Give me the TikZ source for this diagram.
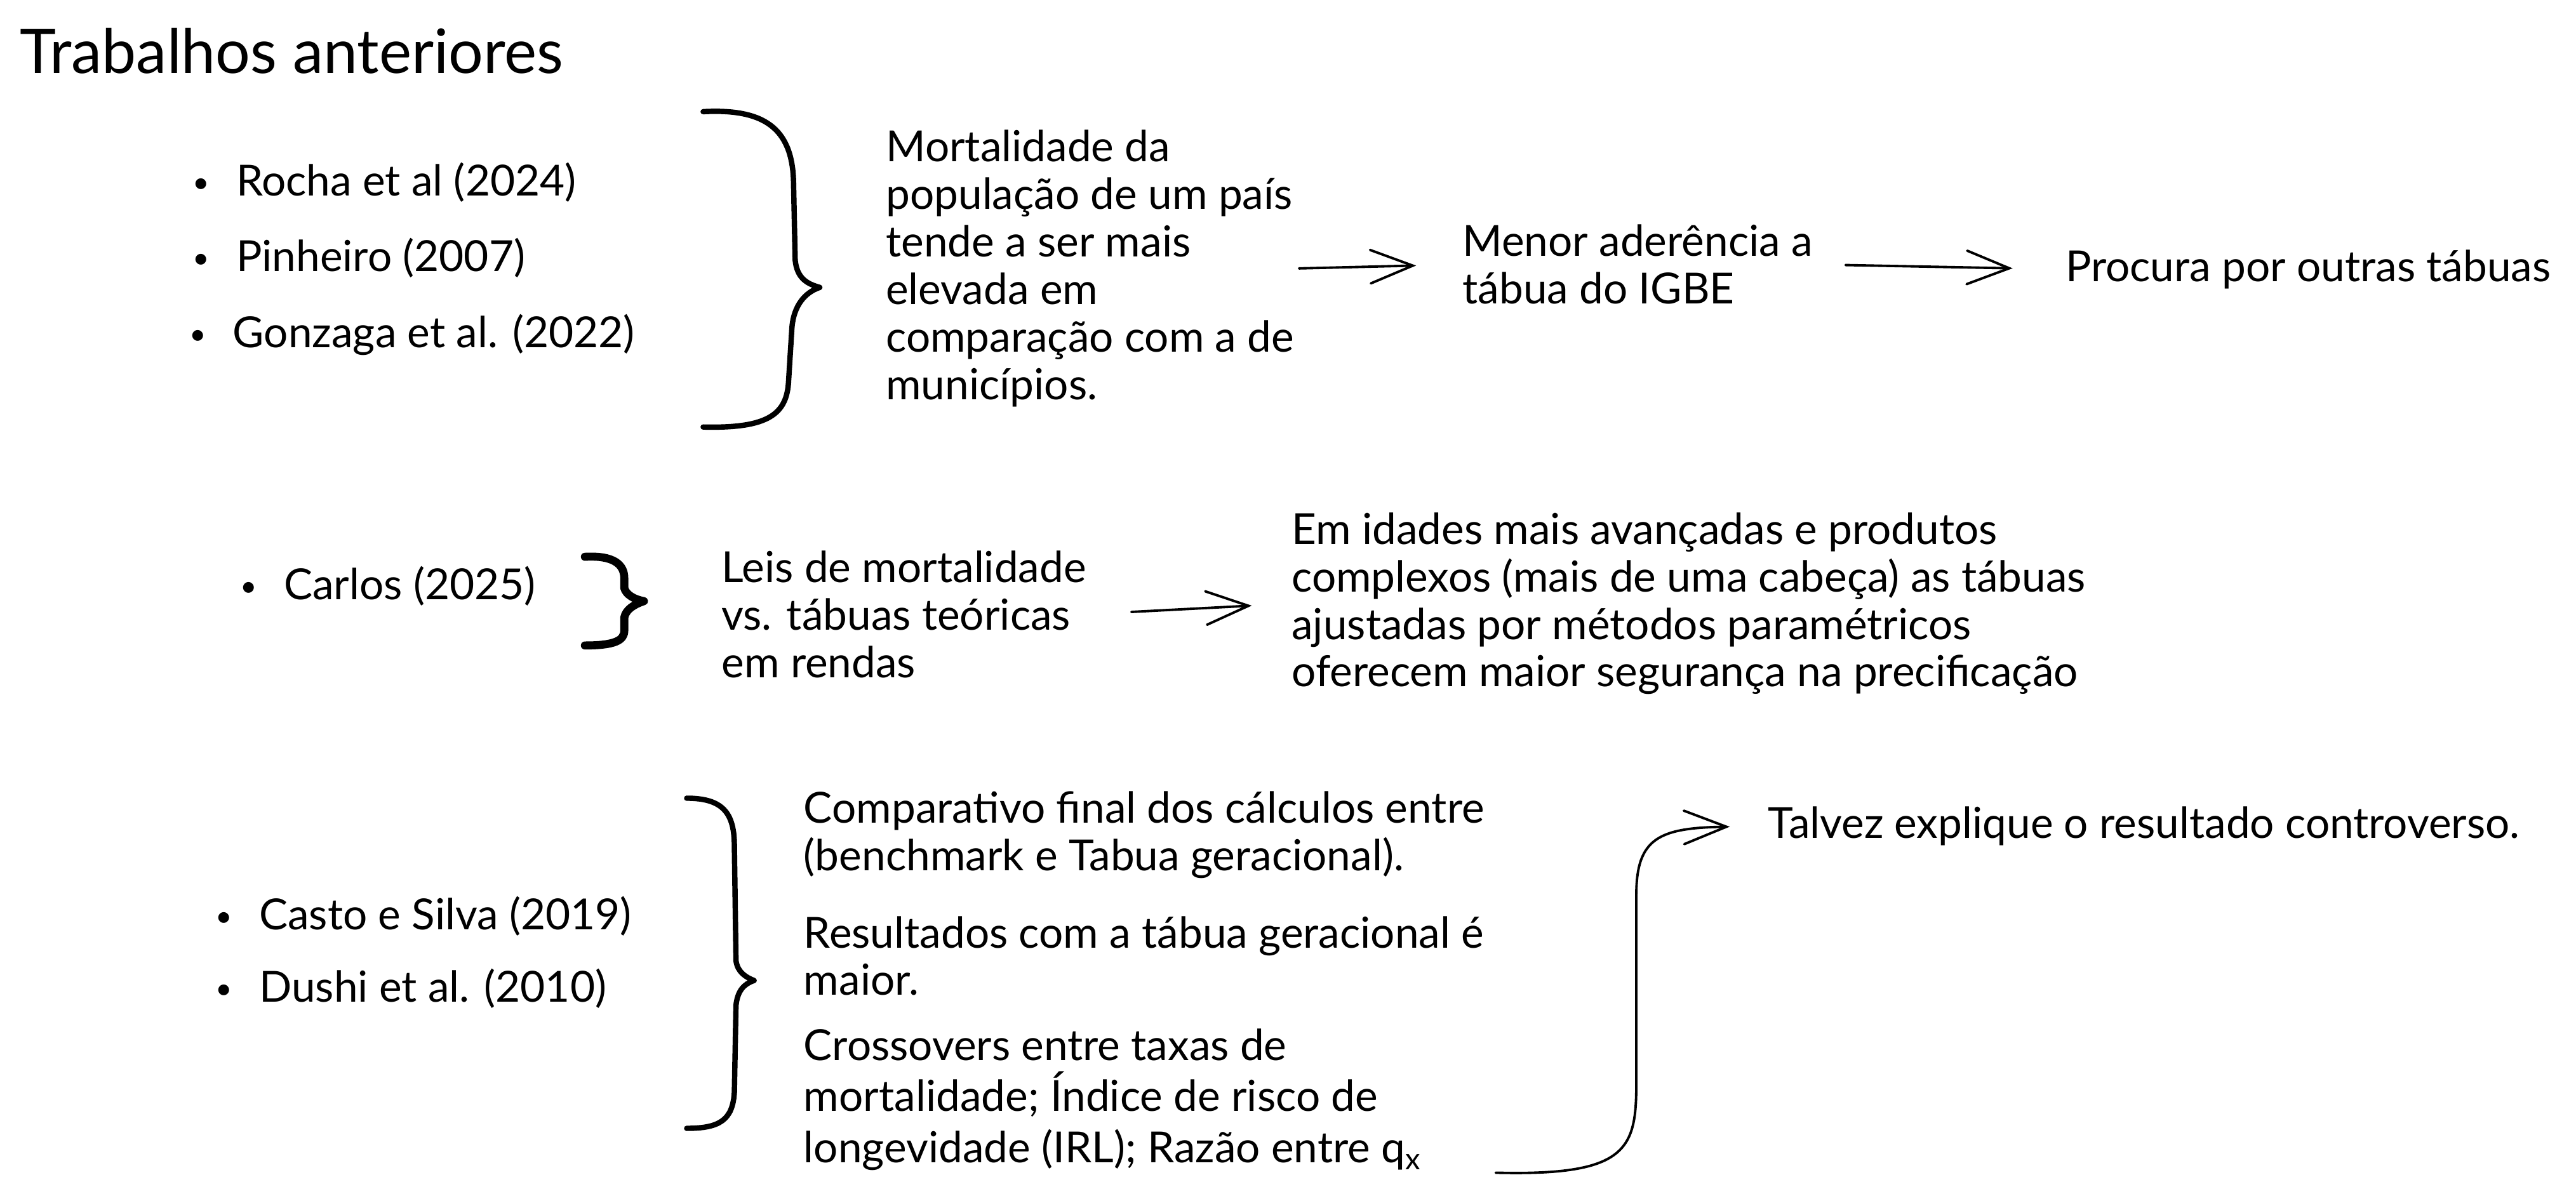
\documentclass[tikz,border=0pt]{standalone}
\usepackage{fontspec}
\setmainfont{Lato}
\usetikzlibrary{arrows.meta}
\newcommand{\marca}{\raisebox{1.5pt}{\fontsize{13}{13}\selectfont\textbullet}\hspace{12pt}}

\begin{document}
\begin{tikzpicture}[x=0.02587cm,y=-0.02587cm,
    txt/.style={inner sep=0pt,anchor=west,align=left,font=\fontsize{19.2}{21.3}\selectfont},
    arr/.style={line width=1.1pt,line cap=round,-{Straight Barb[length=19pt,width=15pt,line cap=round]}},
    brace/.style={line width=2.4pt,line cap=round,line join=round}]
                    \useasboundingbox (0,0) rectangle (1568,731);
                    \node[inner sep=0pt,anchor=west,font=\fontsize{27.5}{32}\selectfont] (title) at (12,31) {Trabalhos anteriores};

                    % primeiro grupo
                    \node[txt] (rocha) at (117,111) {\marca Rocha et al (2024)};
                    \node[txt] (pinheiro) at (117,157) {\marca Pinheiro (2007)};
                    \node[txt] (gonzaga) at (115,204) {\marca Gonzaga et al. (2022)};
                    \draw[brace] (428,68) .. controls (465,66) and (482,78) .. (483,110) -- (484,158) .. controls (485,170) and (492,173) .. (499,175) .. controls (490,178) and (483,186) .. (482,200) -- (480,232) .. controls (479,252) and (468,261) .. (428,260);
                    \node[txt] (mort) at (539,163.5) {Mortalidade da\\população de um país\\tende a ser mais\\elevada em\\comparação com a de\\municípios.};
                    \node[txt] (menor) at (890,161) {Menor aderência a\\tábua do IGBE};
                    \node[txt] (procura) at (1257,164) {Procura por outras tábuas};
                    \draw[arr,shorten <=2pt,shorten >=20.6pt] (mort.east) -- (menor.west);
                    \draw[arr,shorten <=14.5pt,shorten >=23.5pt] (menor.east) -- (procura.west);

                    % segundo grupo
                    \node[txt] (carlos) at (146,357) {\marca Carlos (2025)};
                    \draw[brace,line width=3.6pt] (356,339) .. controls (374,338) and (380,344) .. (380,352) -- (380,358) .. controls (381,362) and (386,365) .. (392,366) .. controls (386,368) and (381,371) .. (380,376) -- (380,384) .. controls (380,390) and (374,393) .. (356,393);
                    \node[txt] (leis) at (439,374) {Leis de mortalidade\\vs. tábuas teóricas\\em rendas};
                    \node[txt] (idades) at (786,367.5) {Em idades mais avançadas e produtos\\complexos (mais de uma cabeça) as tábuas\\ajustadas por métodos paramétricos\\oferecem maior segurança na precificação};
                    \draw[arr,shorten <=20pt,shorten >=17.7pt] (leis.east) -- (idades.west);

                    % terceiro grupo
                    \node[txt] (casto) at (131,558) {\marca Casto e Silva (2019)};
                    \node[txt] (dushi) at (131,602) {\marca Dushi et al. (2010)};
                    \draw[brace] (418,486) .. controls (440,486) and (447,495) .. (447,515) -- (448,585) .. controls (449,592) and (454,595) .. (459,597) .. controls (453,599) and (449,603) .. (448,612) -- (447,665) .. controls (446,682) and (438,687) .. (418,687);
                    \node[txt] (comp) at (489,508.5) {Comparativo final dos cálculos entre\\(benchmark e Tabua geracional).};
                    \node[txt] (result) at (489,582) {Resultados com a tábua geracional é\\maior.};
                    \node[txt,font=\fontsize{19.2}{23}\selectfont] (cross) at (489,669.5) {Crossovers entre taxas de\\mortalidade; Índice de risco de\\longevidade (IRL); Razão entre q\textsubscript{x}};
                    \node[txt] (talvez) at (1076,503) {Talvez explique o resultado controverso.};
                    \draw[arr,shorten >=17pt] (cross.south east) ++(45,1) .. controls (990,716) and (996,700) .. (996,660) -- (996,545) .. controls (996,510) and (1010,504) .. (talvez.west);
                \end{tikzpicture}
\end{document}
